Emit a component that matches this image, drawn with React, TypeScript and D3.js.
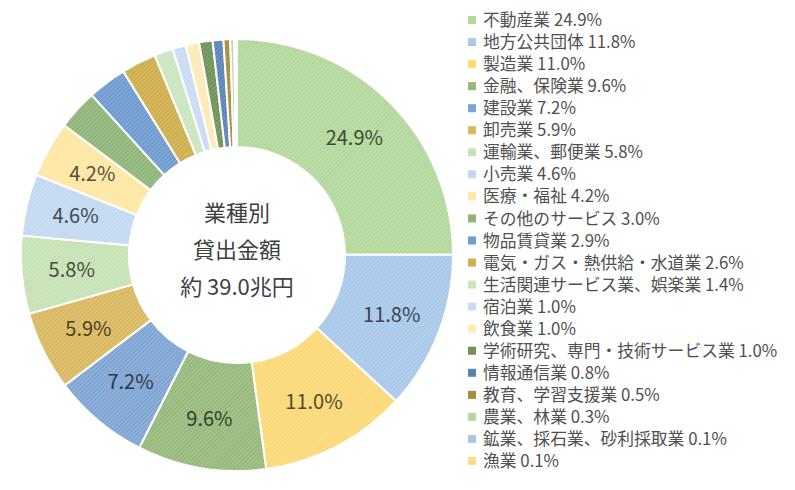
import { useEffect, useRef } from 'react';
import * as d3 from 'd3';

// industry share of loans (%)
const industries = [
  '不動産業', '地方公共団体', '製造業', '金融、保険業', '建設業', '卸売業',
  '運輸業、郵便業', '小売業', '医療・福祉', 'その他のサービス', '物品賃貸業',
  '電気・ガス・熱供給・水道業', '生活関連サービス業、娯楽業', '宿泊業', '飲食業',
  '学術研究、専門・技術サービス業', '情報通信業', '教育、学習支援業', '農業、林業',
  '鉱業、採石業、砂利採取業', '漁業',
];
const shares = [24.9, 11.8, 11.0, 9.6, 7.2, 5.9, 5.8, 4.6, 4.2, 3.0, 2.9, 2.6, 1.4, 1.0, 1.0, 1.0, 0.8, 0.5, 0.3, 0.1, 0.1];
const colors = [
  '#b4d89c', '#a9c8ea', '#fbd978', '#97b97c', '#7fa5d3', '#d9b860',
  '#c6e2b5', '#c3d9f0', '#fde7a3', '#8fb57a', '#6f9bcf', '#cfae4c',
  '#cbe5c0', '#c9dcf2', '#fcebb5', '#6f915a', '#5d83b6', '#a98b3c',
  '#b7d6a6', '#a8c6e6', '#f7dc8a',
];
// only the bigger slices carry a label
const labelled = 9;
const centerLines = ['業種別', '貸出金額', '約 39.0兆円'];

const W = 795, H = 490;
const FONT = '"Noto Sans CJK JP", "Noto Sans", sans-serif';

export default function App() {
  const svgRef = useRef<SVGSVGElement>(null);

  useEffect(() => {
    if (!svgRef.current) return;
    const svg = d3.select(svgRef.current);
    svg.selectAll('*').remove();

    const cx = 237, cy = 255;
    const rOuter = 216, rInner = 108;

    // light diagonal hatching like the original
    const defs = svg.append('defs');
    const hatch = defs.append('pattern').attr('id', 'hatch')
      .attr('width', 3).attr('height', 3).attr('patternUnits', 'userSpaceOnUse')
      .attr('patternTransform', 'rotate(45)');
    hatch.append('line').attr('x1', 0).attr('y1', 0).attr('x2', 0).attr('y2', 3)
      .attr('stroke', '#ffffff').attr('stroke-width', 1).attr('opacity', 0.35);

    const data = shares.map((v, i) => ({ name: industries[i], value: v, color: colors[i], i }));
    const pie = d3.pie<typeof data[number]>().value(d => d.value).sort(null);
    const arcs = pie(data);
    const arc = d3.arc<d3.PieArcDatum<typeof data[number]>>().innerRadius(rInner).outerRadius(rOuter);
    const labelArc = d3.arc<d3.PieArcDatum<typeof data[number]>>().innerRadius(166).outerRadius(166);

    const g = svg.append('g').attr('transform', `translate(${cx},${cy})`);
    g.selectAll('path.slice').data(arcs).enter().append('path')
      .attr('class', 'slice').attr('d', arc)
      .attr('fill', d => d.data.color)
      .attr('stroke', '#ffffff').attr('stroke-width', 2);
    g.selectAll('path.hatch').data(arcs).enter().append('path')
      .attr('class', 'hatch').attr('d', arc)
      .attr('fill', 'url(#hatch)');

    g.selectAll('text.lbl').data(arcs.filter(d => d.data.i < labelled)).enter().append('text')
      .attr('class', 'lbl')
      .attr('transform', d => `translate(${labelArc.centroid(d)})`)
      .attr('text-anchor', 'middle').attr('dy', '0.35em')
      .attr('font-family', FONT).attr('font-size', 20)
      .attr('fill', d => d3.color(d.data.color)!.darker(3).formatHex())
      .text(d => `${d.data.value.toFixed(1)}%`);

    // center caption
    g.selectAll('text.center').data(centerLines).enter().append('text')
      .attr('class', 'center')
      .attr('x', 0).attr('y', (_, i) => (i - 1) * 37 - 5)
      .attr('text-anchor', 'middle').attr('dy', '0.35em')
      .attr('font-family', FONT).attr('font-size', 22).attr('fill', '#3f3f3f')
      .text(d => d);

    // legend
    const rowY = d3.scalePoint<number>().domain(d3.range(data.length)).range([20, 461]);
    const legend = svg.append('g');
    const rows = legend.selectAll('g').data(data).enter().append('g')
      .attr('transform', d => `translate(468,${rowY(d.i)})`);
    rows.append('rect').attr('x', 0).attr('y', -4).attr('width', 8).attr('height', 8)
      .attr('fill', d => d.color);
    rows.append('text').attr('x', 15).attr('dy', '0.36em')
      .attr('font-family', FONT).attr('font-size', 16.8).attr('fill', '#505050')
      .text(d => `${d.name} ${d.value.toFixed(1)}%`);
  }, []);

  return (
    <svg ref={svgRef} width={W} height={H} viewBox={`0 0 ${W} ${H}`}
      style={{ position: 'absolute', left: 0, top: 0, background: '#ffffff' }} />
  );
}
